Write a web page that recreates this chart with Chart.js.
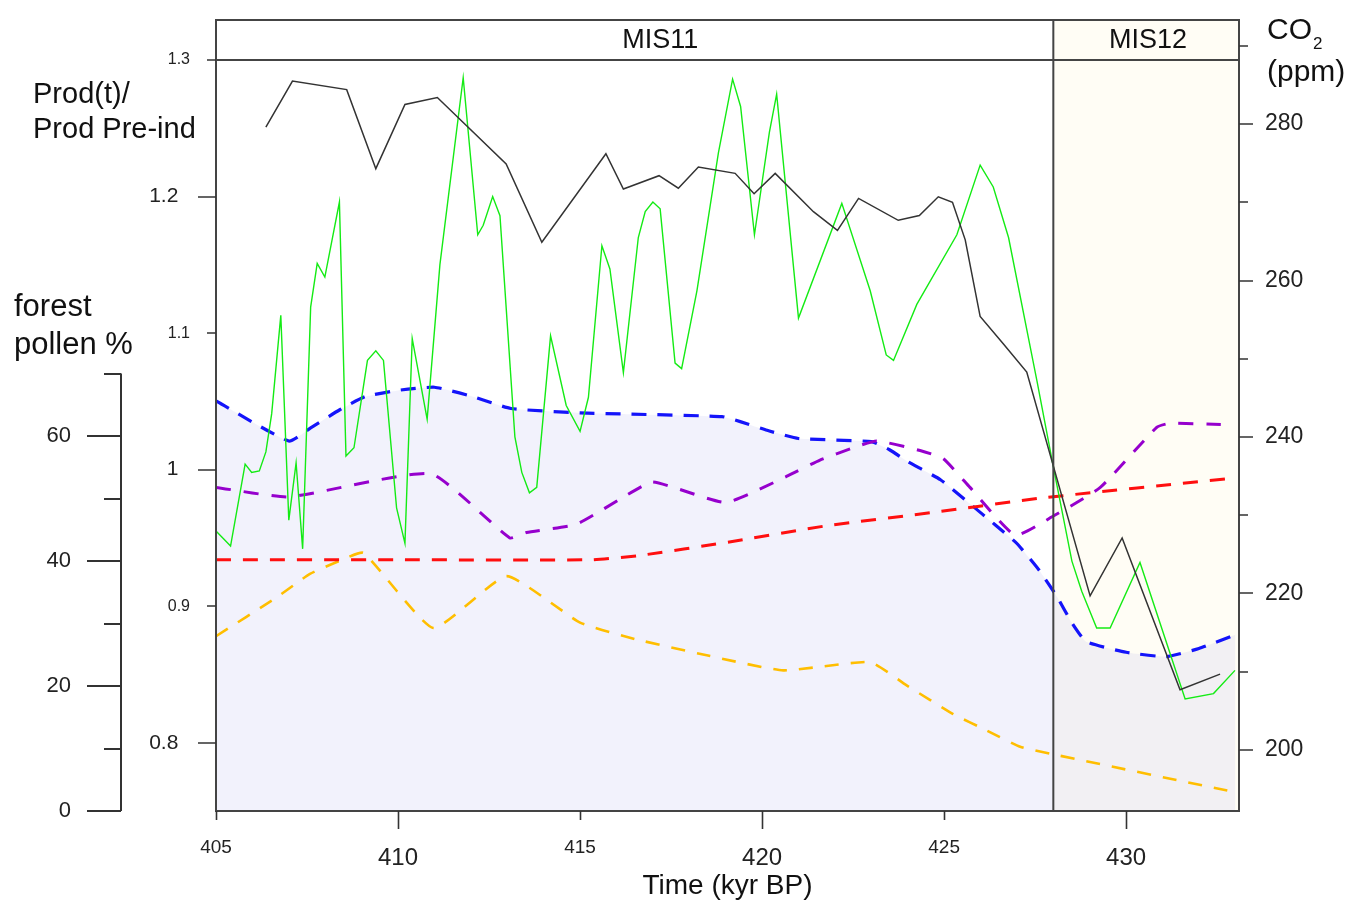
<!DOCTYPE html>
<html>
<head>
<meta charset="utf-8">
<script src="https://cdn.jsdelivr.net/npm/chart.js@4.4.0/dist/chart.umd.min.js"></script>
<style>
  html, body { margin: 0; padding: 0; background: #fff; }
</style>
</head>
<body>
<canvas id="chart" width="1356" height="901"></canvas>
<script>
// CO2 record (ppm), right axis
const co2Age = [406.37, 407.1, 408.59, 409.39, 410.19, 411.08, 412.97, 413.95, 415.71, 416.19, 417.17, 417.7, 418.25, 419.26, 419.78, 420.36, 421.41, 422.07, 422.65, 423.74, 424.32, 424.84, 425.23, 425.58, 425.99, 426.63, 427.27, 429.01, 429.89, 431.48, 432.58];
const co2Ppm = [279.6, 285.5, 284.4, 274.3, 282.5, 283.4, 274.9, 264.9, 276.2, 271.7, 273.4, 271.8, 274.5, 273.7, 271.1, 273.7, 268.8, 266.4, 270.5, 267.7, 268.3, 270.7, 270.0, 265.2, 255.4, 251.9, 248.3, 219.7, 227.1, 207.7, 209.7];

// green curve, Prod(t)/Prod Pre-ind axis
const greenAge = [405.0, 405.4, 405.8, 405.98, 406.19, 406.37, 406.53, 406.78, 407.0, 407.2, 407.38, 407.6, 407.78, 407.99, 408.39, 408.57, 408.79, 409.16, 409.39, 409.6, 409.96, 410.19, 410.39, 410.8, 411.15, 411.79, 412.19, 412.34, 412.6, 412.8, 413.21, 413.4, 413.61, 413.81, 414.19, 414.62, 415.0, 415.23, 415.6, 415.82, 416.19, 416.6, 416.79, 417.0, 417.2, 417.61, 417.79, 418.21, 418.8, 419.19, 419.41, 419.79, 420.2, 420.4, 421.0, 422.19, 422.97, 423.41, 423.61, 424.25, 425.35, 425.99, 426.35, 426.77, 427.55, 428.0, 428.51, 428.78, 429.19, 429.56, 430.38, 431.62, 432.4, 432.99];
const greenVal = [0.955, 0.944, 1.004, 0.998, 0.999, 1.013, 1.041, 1.113, 0.963, 1.005, 0.942, 1.119, 1.151, 1.141, 1.196, 1.010, 1.016, 1.080, 1.087, 1.080, 0.972, 0.946, 1.096, 1.037, 1.150, 1.287, 1.172, 1.179, 1.200, 1.186, 1.024, 0.998, 0.983, 0.987, 1.098, 1.047, 1.028, 1.053, 1.164, 1.147, 1.071, 1.170, 1.189, 1.196, 1.191, 1.078, 1.074, 1.131, 1.232, 1.286, 1.266, 1.172, 1.247, 1.275, 1.111, 1.195, 1.131, 1.084, 1.080, 1.121, 1.172, 1.223, 1.207, 1.170, 1.065, 1.002, 0.933, 0.911, 0.884, 0.884, 0.932, 0.832, 0.836, 0.853];

// forest pollen % (blue, filled)
const pollenAge = [405.0, 407.0, 407.6, 408.4, 409.1, 410.0, 411.0, 412.0, 413.1, 415.0, 416.4, 418.9, 419.4, 420.2, 421.0, 423.0, 423.5, 424.0, 424.9, 425.7, 426.4, 427.0, 427.6, 428.1, 428.5, 428.9, 430.0, 431.1, 432.0, 433.0];
const pollenPct = [65.6, 59.2, 61.3, 64.2, 66.3, 67.3, 67.8, 66.4, 64.4, 63.7, 63.5, 63.1, 62.3, 60.8, 59.6, 59.1, 57.8, 55.9, 53.0, 49.2, 45.8, 42.8, 38.6, 34.3, 30.2, 27.1, 25.4, 24.7, 26.0, 28.2];

// dashed model curves, Prod axis
const purpleAge = [405.0, 407.0, 410.9, 413.07, 413.53, 414.9, 416.2, 417.0, 419.0, 420.67, 421.59, 422.5, 423.15, 424.34, 424.98, 425.71, 426.95, 428.0, 429.29, 430.84, 431.21, 432.6];
const purpleVal = [0.987, 0.980, 0.997, 0.950, 0.954, 0.960, 0.980, 0.991, 0.976, 0.995, 1.007, 1.016, 1.021, 1.014, 1.008, 0.987, 0.952, 0.966, 0.987, 1.031, 1.034, 1.033];

const redAge = [405.0, 410.0, 415.3, 416.6, 419.1, 421.8, 424.8, 427.6, 433.0];
const redVal = [0.934, 0.934, 0.934, 0.937, 0.947, 0.959, 0.969, 0.979, 0.994];

const orangeAge = [405.0, 406.67, 407.58, 408.41, 409.05, 410.97, 412.98, 415.0, 416.5, 418.48, 420.58, 422.97, 423.97, 425.25, 426.17, 427.09, 427.91, 432.95];
const orangeVal = [0.878, 0.9065, 0.9236, 0.9334, 0.939, 0.884, 0.922, 0.888, 0.876, 0.864, 0.853, 0.859, 0.842, 0.821, 0.809, 0.797, 0.792, 0.764];

// axes
const xTicks = [405, 410, 415, 420, 425, 430];
const xBigTicks = [410, 420, 430];
const prodTicks = [0.8, 0.9, 1, 1.1, 1.2, 1.3];
const prodBigTicks = [0.8, 1, 1.2];
const co2Ticks = [200, 210, 220, 230, 240, 250, 260, 270, 280, 290];
const co2Labels = [200, 220, 240, 260, 280];
const pollenTicks = [0, 10, 20, 30, 40, 50, 60, 70];
const pollenLabels = [0, 20, 40, 60];

const misBoundary = 428;
const misNames = ['MIS11', 'MIS12'];
const misLabelAge = [417.2, 430.6];

const FONT = "'Liberation Sans', Arial, sans-serif";

function pts(xs, ys) {
  return xs.map((x, i) => ({ x: x, y: ys[i] }));
}

function noPad(s) {
  s.paddingTop = 0; s.paddingBottom = 0; s.paddingLeft = 0; s.paddingRight = 0;
}

const decor = {
  id: 'decor',
  beforeDatasetsDraw(chart) {
    const { ctx, chartArea: a, scales } = chart;
    const xb = scales.x.getPixelForValue(misBoundary);
    ctx.save();
    ctx.fillStyle = '#fffdf5';
    ctx.fillRect(xb, a.top, a.right - xb, a.bottom - a.top);
    ctx.restore();
  },
  afterDatasetsDraw(chart) {
    const { ctx, chartArea: a, scales } = chart;
    const sx = scales.x, sp = scales.yProd, sc = scales.yCO2, sf = scales.yPollen;
    ctx.save();
    ctx.strokeStyle = '#444';
    ctx.lineWidth = 2;
    // frame
    ctx.strokeRect(a.left, a.top, a.right - a.left, a.bottom - a.top);
    // MIS band line and boundary
    const yb = Math.round(sp.getPixelForValue(1.3));
    const xb = sx.getPixelForValue(misBoundary);
    ctx.beginPath();
    ctx.moveTo(a.left, yb); ctx.lineTo(a.right, yb);
    ctx.moveTo(xb, a.top); ctx.lineTo(xb, a.bottom);
    ctx.stroke();

    ctx.fillStyle = '#111';
    ctx.textAlign = 'center';
    ctx.textBaseline = 'middle';
    ctx.font = '27px ' + FONT;
    misNames.forEach((n, i) => {
      ctx.fillText(n, sx.getPixelForValue(misLabelAge[i]), (a.top + yb) / 2 + 1);
    });

    // tick marks
    ctx.strokeStyle = '#333';
    ctx.lineWidth = 1.6;
    ctx.beginPath();
    xTicks.forEach(v => {
      const px = Math.round(sx.getPixelForValue(v)) + 0.5;
      const len = xBigTicks.includes(v) ? 18 : 9;
      ctx.moveTo(px, a.bottom); ctx.lineTo(px, a.bottom + len);
    });
    prodTicks.forEach(v => {
      const py = Math.round(sp.getPixelForValue(v));
      const len = prodBigTicks.includes(v) ? 18 : 9;
      ctx.moveTo(a.left - len, py); ctx.lineTo(a.left, py);
    });
    co2Ticks.forEach(v => {
      const py = Math.round(sc.getPixelForValue(v));
      const len = co2Labels.includes(v) ? 14 : 9;
      ctx.moveTo(a.right, py); ctx.lineTo(a.right + len, py);
    });
    ctx.stroke();

    // forest pollen axis, drawn off to the left
    const x0 = a.left - 95;
    ctx.lineWidth = 2;
    ctx.beginPath();
    ctx.moveTo(x0, sf.getPixelForValue(pollenTicks[pollenTicks.length - 1]));
    ctx.lineTo(x0, sf.getPixelForValue(0));
    pollenTicks.forEach(v => {
      const py = Math.round(sf.getPixelForValue(v));
      const len = pollenLabels.includes(v) ? 34 : 17;
      ctx.moveTo(x0 - len, py); ctx.lineTo(x0, py);
    });
    ctx.stroke();
    ctx.font = '22px ' + FONT;
    ctx.textAlign = 'right';
    ctx.fillStyle = '#222';
    pollenLabels.forEach(v => {
      ctx.fillText(String(v), x0 - 50, sf.getPixelForValue(v));
    });

    // axis captions
    ctx.fillStyle = '#111';
    ctx.textAlign = 'left';
    ctx.font = '29px ' + FONT;
    ctx.fillText('Prod(t)/', 33, 95);
    ctx.fillText('Prod Pre-ind', 33, 130);
    ctx.font = '31px ' + FONT;
    ctx.fillText('forest', 14, 307);
    ctx.fillText('pollen %', 14, 345);
    ctx.font = '30px ' + FONT;
    ctx.fillText('CO', 1267, 31);
    const coW = ctx.measureText('CO').width;
    ctx.font = '17px ' + FONT;
    ctx.fillText('2', 1267 + coW + 1, 44);
    ctx.font = '30px ' + FONT;
    ctx.fillText('(ppm)', 1267, 73);
    ctx.restore();
  }
};

const dashed = (color, width, dash) => ({
  borderColor: color,
  borderWidth: width,
  borderDash: dash,
  pointRadius: 0,
  fill: false,
  tension: 0.15
});

new Chart(document.getElementById('chart'), {
  type: 'line',
  data: {
    datasets: [
      { label: 'CO2', data: pts(co2Age, co2Ppm), yAxisID: 'yCO2', borderColor: '#333', borderWidth: 1.5, pointRadius: 0, tension: 0, fill: false },
      { label: 'green', data: pts(greenAge, greenVal), yAxisID: 'yProd', borderColor: 'rgb(20,235,20)', borderWidth: 1.4, pointRadius: 0, tension: 0, fill: false },
      Object.assign({ label: 'purple', data: pts(purpleAge, purpleVal), yAxisID: 'yProd' }, dashed('rgb(150,0,205)', 3, [15, 13])),
      Object.assign({ label: 'red', data: pts(redAge, redVal), yAxisID: 'yProd' }, dashed('rgb(255,15,15)', 3, [15, 12])),
      Object.assign({ label: 'orange', data: pts(orangeAge, orangeVal), yAxisID: 'yProd' }, dashed('rgb(255,190,0)', 2.6, [14, 12])),
      Object.assign({ label: 'forest pollen', data: pts(pollenAge, pollenPct), yAxisID: 'yPollen' }, dashed('rgb(20,20,250)', 3.2, [15, 11]), {
        fill: 'start',
        backgroundColor: 'rgba(170,170,235,0.15)'
      })
    ]
  },
  options: {
    responsive: false,
    animation: false,
    parsing: false,
    layout: { padding: { top: 20, left: 0, right: 0, bottom: 0 } },
    plugins: { legend: { display: false }, tooltip: { enabled: false } },
    scales: {
      x: {
        type: 'linear', position: 'bottom', min: 405, max: 433.1,
        afterBuildTicks: s => { s.ticks = xTicks.map(v => ({ value: v })); },
        afterFit: s => { s.height = 90; noPad(s); },
        border: { display: false },
        grid: { display: false, drawTicks: false },
        ticks: {
          autoSkip: false, maxRotation: 0, padding: 26, color: '#222',
          font: c => xBigTicks.includes(c.tick && c.tick.value)
            ? { family: FONT, size: 24, lineHeight: 1.75 }
            : { family: FONT, size: 19, lineHeight: 1.16 },
          callback: v => String(v)
        },
        title: {
          display: true, text: 'Time (kyr BP)', color: '#111',
          font: { family: FONT, size: 28, lineHeight: 1 },
          padding: { top: 0, bottom: 1 }
        }
      },
      yProd: {
        type: 'linear', position: 'left', min: 0.75, max: 1.3293,
        afterBuildTicks: s => { s.ticks = prodTicks.map(v => ({ value: v })); },
        afterFit: s => { s.width = 216; noPad(s); },
        border: { display: false },
        grid: { display: false, drawTicks: false },
        ticks: {
          padding: 26, color: '#222',
          font: c => prodBigTicks.includes(c.tick && c.tick.value)
            ? { family: FONT, size: 21 }
            : { family: FONT, size: 16 },
          callback: v => prodBigTicks.includes(v) ? String(v) + '  ' : String(v)
        }
      },
      yPollen: {
        type: 'linear', display: false, min: 0, max: 126.56
      },
      yCO2: {
        type: 'linear', position: 'right', min: 192.2, max: 293.3,
        afterBuildTicks: s => { s.ticks = co2Ticks.map(v => ({ value: v })); },
        afterFit: s => { s.width = 117; noPad(s); },
        border: { display: false },
        grid: { display: false, drawTicks: false },
        ticks: {
          padding: 26, color: '#222',
          font: { family: FONT, size: 23 },
          callback: v => co2Labels.includes(v) ? String(v) : ''
        }
      }
    }
  },
  plugins: [decor]
});
</script>
</body>
</html>
